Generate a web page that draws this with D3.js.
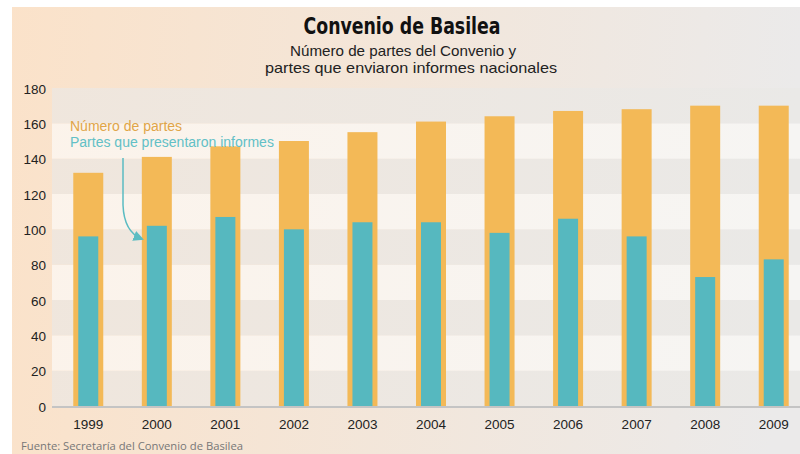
<!DOCTYPE html>
<meta charset="utf-8">
<script src="https://d3js.org/d3.v7.min.js"></script>
<style>
body { margin: 0; background: #fff; }
svg { display: block; }
.tick text { font-family: "Liberation Sans", Arial, sans-serif; font-size: 13.5px; fill: #222; }
</style>
<body>
</body>
<script>

// data
var years = ["1999", "2000", "2001", "2002", "2003", "2004", "2005", "2006", "2007", "2008", "2009"];
var partes = [132, 141, 147, 150, 155, 161, 164, 167, 168, 170, 170];
var informes = [96, 102, 107, 100, 104, 104, 98, 106, 96, 73, 83];
var yTicks = [0, 20, 40, 60, 80, 100, 120, 140, 160, 180];
var subtitle = ["Número de partes del Convenio y", "partes que enviaron informes nacionales"];

var width = 800, height = 454;

var svg = d3.select("body").append("svg")
  .attr("width", width)
  .attr("height", height);

var defs = svg.append("defs");

function grad(id, c1, c2) {
  var g = defs.append("linearGradient").attr("id", id)
    .attr("gradientUnits", "userSpaceOnUse")
    .attr("x1", 0).attr("y1", 0).attr("x2", width).attr("y2", 60);
  g.append("stop").attr("offset", "0%").attr("stop-color", c1);
  g.append("stop").attr("offset", "100%").attr("stop-color", c2);
}
grad("bg", "#fbe2c9", "#ebeaea");
grad("dark", "#f0e6dc", "#eae9e7");
grad("light", "#fcf3ea", "#f6f5f3");

// background panel
svg.append("rect")
  .attr("x", 12).attr("y", 7)
  .attr("width", width - 12).attr("height", height - 7)
  .attr("fill", "url(#bg)");

var x = d3.scaleBand()
  .domain(years)
  .range([54, 808])
  .paddingInner(0.56)
  .paddingOuter(0.28);

var y = d3.scaleLinear()
  .domain([0, 180])
  .range([406, 88]);

var left = 52;

// alternating bands
var bands = d3.range(0, 180, 20);
svg.selectAll(".band")
  .data(bands).enter().append("rect")
  .attr("class", "band")
  .attr("x", left)
  .attr("y", function(d) { return y(d + 20); })
  .attr("width", width - left)
  .attr("height", function(d) { return y(d) - y(d + 20); })
  .attr("fill", function(d) { return (d / 20) % 2 === 0 ? "url(#dark)" : "url(#light)"; });

// bars
var bw = 30, tw = 20;
var bar = svg.selectAll(".bar")
  .data(years).enter().append("g")
  .attr("class", "bar")
  .attr("transform", function(d) { return "translate(" + (x(d) + x.bandwidth() / 2) + ",0)"; });

bar.append("rect")
  .attr("x", -bw / 2)
  .attr("y", function(d, i) { return y(partes[i]); })
  .attr("width", bw)
  .attr("height", function(d, i) { return y(0) - y(partes[i]); })
  .attr("fill", "#f3b957");

bar.append("rect")
  .attr("x", -tw / 2)
  .attr("y", function(d, i) { return y(informes[i]); })
  .attr("width", tw)
  .attr("height", function(d, i) { return y(0) - y(informes[i]); })
  .attr("fill", "#56b8bf");

// baseline
svg.append("line")
  .attr("x1", left).attr("x2", width)
  .attr("y1", y(0) + 1).attr("y2", y(0) + 1)
  .attr("stroke", "#c4c4c4").attr("stroke-width", 2);

// axes
var yAxis = svg.append("g")
  .attr("transform", "translate(46,0)")
  .call(d3.axisLeft(y).tickValues(yTicks).tickSize(0).tickPadding(0));
yAxis.select(".domain").remove();
yAxis.selectAll("text").attr("dy", "0.38em");

var xAxis = svg.append("g")
  .attr("transform", "translate(0," + y(0) + ")")
  .call(d3.axisBottom(x).tickSize(0).tickPadding(13));
xAxis.select(".domain").remove();

// titles
svg.append("text")
  .attr("x", 402).attr("y", 34)
  .attr("text-anchor", "middle")
  .attr("font-family", "'Liberation Sans Narrow', 'DejaVu Sans Condensed', sans-serif")
  .attr("font-weight", "bold")
  .attr("font-size", 23)
  .attr("fill", "#111")
  .attr("textLength", 197).attr("lengthAdjust", "spacingAndGlyphs")
  .text("Convenio de Basilea");

var sub = svg.append("text")
  .attr("text-anchor", "middle")
  .attr("font-family", "'Liberation Sans', Arial, sans-serif")
  .attr("font-size", 14.5)
  .attr("fill", "#222");
sub.append("tspan").attr("x", 403).attr("y", 56)
  .attr("textLength", 226).attr("lengthAdjust", "spacingAndGlyphs")
  .text(subtitle[0]);
sub.append("tspan").attr("x", 411).attr("y", 73)
  .attr("textLength", 292).attr("lengthAdjust", "spacingAndGlyphs")
  .text(subtitle[1]);

// legend
svg.append("text")
  .attr("x", 70).attr("y", 131)
  .attr("font-family", "'Liberation Sans', Arial, sans-serif")
  .attr("font-size", 14)
  .attr("fill", "#e0a548")
  .text("Número de partes");

svg.append("text")
  .attr("x", 70).attr("y", 147)
  .attr("font-family", "'Liberation Sans', Arial, sans-serif")
  .attr("font-size", 14)
  .attr("fill", "#62c0c6")
  .text("Partes que presentaron informes");

// arrow
defs.append("marker").attr("id", "head")
  .attr("viewBox", "0 0 10 10").attr("refX", 8).attr("refY", 5)
  .attr("markerWidth", 7).attr("markerHeight", 7)
  .attr("orient", "auto")
  .append("path").attr("d", "M0,0L10,5L0,10z").attr("fill", "#5bbcc2");

svg.append("path")
  .attr("d", "M123,158 L123,205 Q124,232 142,239")
  .attr("fill", "none")
  .attr("stroke", "#5bbcc2")
  .attr("stroke-width", 1.5)
  .attr("marker-end", "url(#head)");

// source
svg.append("text")
  .attr("x", 21).attr("y", 450)
  .attr("font-family", "'Open Sans', sans-serif")
  .attr("font-size", 11)
  .attr("fill", "#777")
  .attr("textLength", 222).attr("lengthAdjust", "spacingAndGlyphs")
  .text("Fuente: Secretaría del Convenio de Basilea");

</script>
